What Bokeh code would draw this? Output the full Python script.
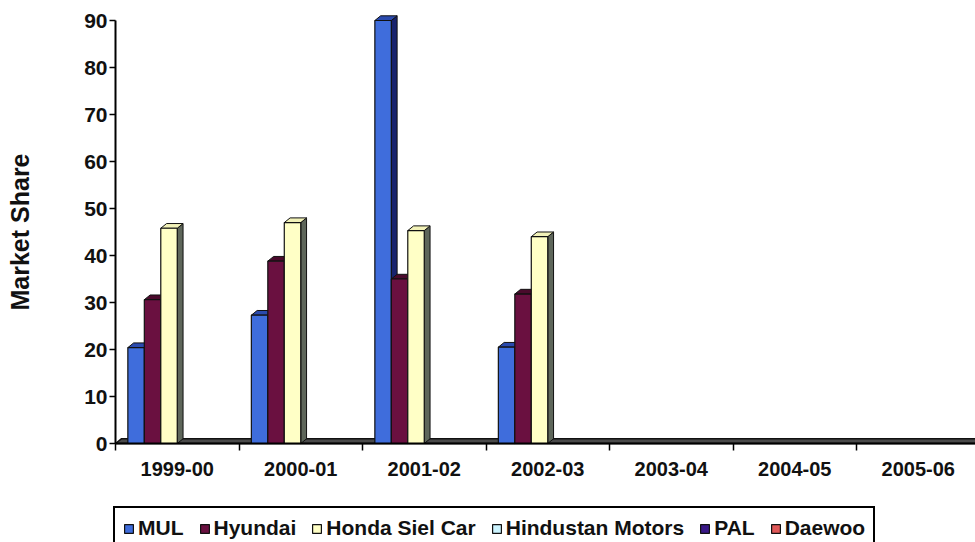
import numpy as np
from bokeh.plotting import figure
from bokeh.models import Range1d, FixedTicker, Legend, LegendItem, LinearAxis
from bokeh.embed import file_html
from bokeh.resources import INLINE

# ---- data ----
categories = ["1999-00", "2000-01", "2001-02", "2002-03", "2003-04", "2004-05", "2005-06"]
series_names = ["MUL", "Hyundai", "Honda Siel Car", "Hindustan Motors", "PAL", "Daewoo"]
mul = [20.4, 27.3, 90.0, 20.5, 0, 0, 0]
hyundai = [30.6, 38.8, 35.0, 31.8, 0, 0, 0]
honda = [45.8, 47.0, 45.3, 44.0, 0, 0, 0]
hindustan = [0, 0, 0, 0, 0, 0, 0]
pal = [0, 0, 0, 0, 0, 0, 0]
daewoo = [0, 0, 0, 0, 0, 0, 0]
y_ticks = [0, 10, 20, 30, 40, 50, 60, 70, 80, 90]

series_values = [mul, hyundai, honda, hindustan, pal, daewoo]

# ---- styles ----
front_colors = ["#3F6DDC", "#6A1040", "#FFFFC6", "#CCF4FF", "#3A1888", "#E05858"]
top_colors = ["#2A4AAE", "#4A0A2C", "#F2F2B8", "#A8D8E8", "#28105E", "#B04040"]
side_colors = ["#18236E", "#3A0622", "#5E665A", "#7FAFBF", "#1A0A48", "#842C2C"]
FONT = "Liberation Sans"

W, H = 975, 542
AX_LEFT_PX = 115      # pixel position of the value axis
ZERO_PX = 443         # pixel position of the zero line
CAT_PX = 123.5        # pixels per category
UNIT_PX = 4.7         # pixels per market-share unit

GROUP = 0.8
BAR_W = GROUP / len(series_names)
DX = 0.047
DY = 1.0

p = figure(width=W, height=H, output_backend="svg", toolbar_location=None,
           x_range=Range1d(-AX_LEFT_PX / CAT_PX, (W - AX_LEFT_PX) / CAT_PX),
           y_range=Range1d(-(H - ZERO_PX) / UNIT_PX, ZERO_PX / UNIT_PX),
           x_axis_location=None, y_axis_location=None,
           min_border=0)
p.outline_line_color = None
p.background_fill_color = "white"
p.border_fill_color = "white"
p.xgrid.visible = False
p.ygrid.visible = False

n_cat = len(categories)
xi = np.arange(n_cat, dtype=float)

# zero-level slab (floor)
p.patch([0, n_cat, n_cat + DX, DX], [0, 0, DY, DY], fill_color="#4a4a4a",
        line_color="#111111", line_width=1.5)

legend_items = []
for k, (name, vals) in enumerate(zip(series_names, series_values)):
    v = np.array(vals, dtype=float)
    left = xi + (1 - GROUP) / 2 + k * BAR_W
    right = left + BAR_W
    nz = v > 0
    # side faces
    xs_side = [[r, r + DX, r + DX, r] for r in right[nz]]
    ys_side = [[0, DY, h + DY, h] for h in v[nz]]
    p.patches(xs_side, ys_side, fill_color=side_colors[k], line_color="#111111", line_width=1)
    # top faces
    xs_top = [[l, l + DX, r + DX, r] for l, r in zip(left[nz], right[nz])]
    ys_top = [[h, h + DY, h + DY, h] for h in v[nz]]
    p.patches(xs_top, ys_top, fill_color=top_colors[k], line_color="#111111", line_width=1)
    # front faces
    r_front = p.vbar(x=(left + right) / 2, width=BAR_W, top=v, bottom=0,
                     fill_color=front_colors[k], line_color="#111111", line_width=1.2)
    legend_items.append(LegendItem(label=name, renderers=[r_front]))

# ---- axes (drawn at fixed data positions) ----
xa = LinearAxis(fixed_location=0, bounds=(0, n_cat))
xa.ticker = FixedTicker(ticks=list(xi + 0.5), minor_ticks=list(np.arange(n_cat + 1)))
xa.major_label_overrides = {float(c + 0.5): lab for c, lab in enumerate(categories)}
xa.major_tick_out = 0
xa.major_tick_in = 0
xa.minor_tick_out = 7
xa.minor_tick_in = 0
xa.minor_tick_line_color = "black"
xa.minor_tick_line_width = 1.5
xa.axis_line_color = "black"
xa.axis_line_width = 2
xa.major_label_standoff = 11
xa.major_label_text_font = FONT
xa.major_label_text_font_style = "bold"
xa.major_label_text_font_size = "20px"
xa.major_label_text_color = "#111111"
p.add_layout(xa, "below")

ya = LinearAxis(fixed_location=0, bounds=(0, 90))
ya.ticker = FixedTicker(ticks=y_ticks)
ya.minor_tick_line_color = None
ya.major_tick_out = 6
ya.major_tick_in = 0
ya.major_tick_line_width = 1.5
ya.axis_line_width = 2
ya.axis_line_color = "black"
ya.major_label_standoff = 2
ya.major_label_text_font = FONT
ya.major_label_text_font_style = "bold"
ya.major_label_text_font_size = "21px"
ya.major_label_text_color = "#111111"
ya.axis_label = "Market Share"
ya.axis_label_text_font = FONT
ya.axis_label_text_font_style = "bold"
ya.axis_label_text_font_size = "25px"
ya.axis_label_text_color = "#111111"
ya.axis_label_standoff = 47
p.add_layout(ya, "left")

legend = Legend(items=legend_items, orientation="horizontal", location=(113, -8))
legend.margin = 0
legend.padding = 8
legend.spacing = 15
legend.glyph_width = 11
legend.glyph_height = 11
legend.label_standoff = 4
legend.label_text_font = FONT
legend.label_text_font_style = "bold"
legend.label_text_font_size = "21px"
legend.label_text_color = "#111111"
legend.border_line_color = "black"
legend.border_line_alpha = 1
legend.border_line_width = 2
legend.background_fill_alpha = 1
p.add_layout(legend, "center")

open("out.html", "w").write(file_html(p, INLINE))
